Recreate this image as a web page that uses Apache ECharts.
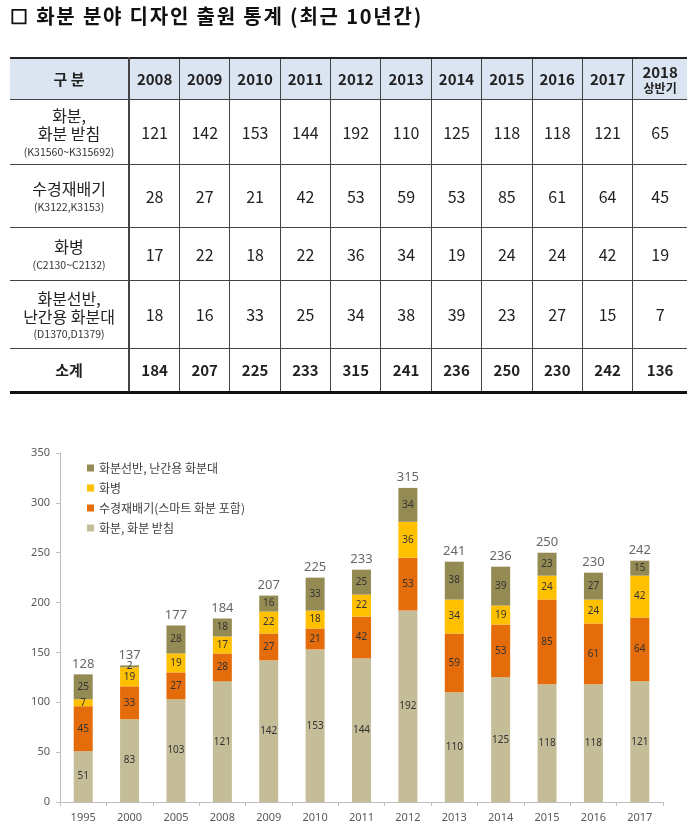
<!DOCTYPE html>
<html><head><meta charset="utf-8">
<script src="https://cdn.jsdelivr.net/npm/echarts@6/dist/echarts.min.js"></script>
<style>
html,body{margin:0;padding:0;background:#fff;width:700px;height:839px;overflow:hidden;font-family:"Noto Sans CJK KR","Noto Sans",sans-serif;}
#title{position:absolute;left:10px;top:1px;font-size:20px;font-weight:bold;color:#111;letter-spacing:1.8px;}
#tbl{position:absolute;left:10px;top:57px;width:677px;border-collapse:collapse;table-layout:fixed;color:#222;}
#tbl td,#tbl th{border-left:1px solid #444;border-bottom:1px solid #444;text-align:center;padding:0;line-height:1.15;}
#tbl tr td:first-child,#tbl tr th:first-child{border-left:none;border-right:2px solid #444;}
#tbl thead th{background:#dbe5f1;font-weight:bold;font-size:15px;height:40px;border-top:2px solid #222;}
#tbl tbody td{font-size:16px;}
#tbl .lab{font-size:16px;}
#tbl .code{font-size:10.5px;display:block;margin-top:3px;color:#333;}
#tbl .sum td{font-weight:bold;font-size:15px;height:42px;border-bottom:3px solid #111;}
#tbl .sm{font-size:12px;display:block;}
#chart{position:absolute;left:0;top:0;width:700px;height:839px;}
</style></head>
<body>
<div id="chart"></div>
<div id="title">☐ 화분 분야 디자인 출원 통계 (최근 10년간)</div>
<table id="tbl"></table>
<script>
// ---- table data ----
var tableYears = ['2008','2009','2010','2011','2012','2013','2014','2015','2016','2017','2018'];
var tableRowNames = ['화분,<br>화분 받침', '수경재배기', '화병', '화분선반,<br>난간용 화분대'];
var tableRowCodes = ['(K31560~K315692)', '(K3122,K3153)', '(C2130~C2132)', '(D1370,D1379)'];
var tablePot = [121,142,153,144,192,110,125,118,118,121,65];
var tableHydro = [28,27,21,42,53,59,53,85,61,64,45];
var tableVase = [17,22,18,22,36,34,19,24,24,42,19];
var tableShelf = [18,16,33,25,34,38,39,23,27,15,7];
var tableSum = [184,207,225,233,315,241,236,250,230,242,136];
var rowHeights = [65, 63, 53, 68];

// ---- chart data ----
var years = ['1995','2000','2005','2008','2009','2010','2011','2012','2013','2014','2015','2016','2017'];
var potData = [51,83,103,121,142,153,144,192,110,125,118,118,121];
var hydroData = [45,33,27,28,27,21,42,53,59,53,85,61,64];
var vaseData = [7,19,19,17,22,18,22,36,34,19,24,24,42];
var shelfData = [25,2,28,18,16,33,25,34,38,39,23,27,15];
var totals = [128,137,177,184,207,225,233,315,241,236,250,230,242];
var yTicks = [0,50,100,150,200,250,300,350];
var seriesNames = ['화분, 화분 받침','수경재배기(스마트 화분 포함)','화병','화분선반, 난간용 화분대'];

// build table
(function(){
  var t = document.getElementById('tbl');
  var h = '<colgroup><col style="width:119px">';
  for (var i=0;i<tableYears.length;i++) h += '<col style="width:' + (i==tableYears.length-1?54:50.3) + 'px">';
  h += '</colgroup><thead><tr><th>구 분</th>';
  for (var i=0;i<tableYears.length;i++){
    if (i==tableYears.length-1) h += '<th>'+tableYears[i]+'<span class="sm">상반기</span></th>';
    else h += '<th>'+tableYears[i]+'</th>';
  }
  h += '</tr></thead><tbody>';
  var rows = [tablePot, tableHydro, tableVase, tableShelf];
  for (var r=0;r<rows.length;r++){
    h += '<tr style="height:'+rowHeights[r]+'px"><td class="lab">'+tableRowNames[r]+'<span class="code">'+tableRowCodes[r]+'</span></td>';
    for (var c=0;c<rows[r].length;c++) h += '<td>'+rows[r][c]+'</td>';
    h += '</tr>';
  }
  h += '<tr class="sum"><td>소계</td>';
  for (var c=0;c<tableSum.length;c++) h += '<td>'+tableSum[c]+'</td>';
  h += '</tr></tbody>';
  t.innerHTML = h;
})();

var chart = echarts.init(document.getElementById('chart'));
var lbl = {show:true, position:'inside', fontSize:10, color:'#333', fontFamily:'Noto Sans'};
function bar(name, data, color){
  return {name:name, type:'bar', stack:'s', data:data, barWidth:19,
    itemStyle:{color:color}, label:lbl, emphasis:{disabled:true}};
}
chart.setOption({
  animation:false,
  grid:{left:60, right:37, top:453, bottom:37},
  legend:{
    orient:'vertical', left:82, top:457, itemWidth:7, itemHeight:7, itemGap:8, icon:'rect',
    textStyle:{fontSize:12, color:'#404040', fontFamily:'Noto Sans CJK KR'},
    data:[seriesNames[3], seriesNames[2], seriesNames[1], seriesNames[0]]
  },
  xAxis:{type:'category', data:years,
    axisLine:{lineStyle:{color:'#bfbfbf'}},
    axisTick:{show:true, length:4, lineStyle:{color:'#bfbfbf'}},
    axisLabel:{fontSize:11, color:'#595959', margin:10, fontFamily:'Noto Sans'}},
  yAxis:{type:'value', min:yTicks[0], max:yTicks[yTicks.length-1], interval:50,
    axisLine:{show:true, lineStyle:{color:'#bfbfbf'}},
    axisTick:{show:true, length:4, lineStyle:{color:'#bfbfbf'}},
    splitLine:{show:false},
    axisLabel:{fontSize:11, color:'#595959', margin:10, fontFamily:'Noto Sans'}},
  series:[
    bar(seriesNames[0], potData, '#c4bd97'),
    bar(seriesNames[1], hydroData, '#e46c0a'),
    bar(seriesNames[2], vaseData, '#ffc000'),
    bar(seriesNames[3], shelfData, '#948a54'),
    {type:'scatter', data:totals, symbolSize:0, silent:true,
      label:{show:true, position:'top', distance:4, fontSize:13, color:'#404040', fontFamily:'Noto Sans',
        formatter:function(p){return p.value;}}}
  ]
});
</script>
</body></html>
